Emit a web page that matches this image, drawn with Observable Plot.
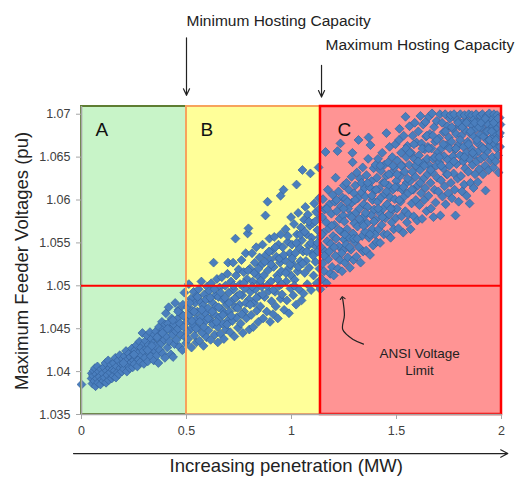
<!DOCTYPE html>
<html><head><meta charset="utf-8">
<script src="https://cdn.jsdelivr.net/npm/d3@7"></script>
<script src="https://cdn.jsdelivr.net/npm/@observablehq/plot@0.6"></script>
<style>
body{margin:0;background:#fff;font-family:"Liberation Sans",Arial,sans-serif;}
#chart svg{display:block}
</style></head><body><div id="chart"></div>
<script>
// ---- categories / zones ----
const zoneNames = ["A", "B", "C"];
const zoneStarts = [0, 0.5, 1.138];
const zoneEnds = [0.5, 1.138, 2];
const zoneFills = ["#c8f4c8", "#ffff99", "#ff9494"];
const zoneStrokes = ["#5e7d32", "#f7a35c", "#ff0000"];
const zoneStrokeWidths = [2, 2, 2.5];
const ansiLimit = 1.05;
const yBottom = 1.035, yTop = 1.0709;

// ---- ticks ----
const xTicks = [0, 0.5, 1, 1.5, 2];
const xTickLabels = ["0", "0.5", "1", "1.5", "2"];
const yTicks = [1.035, 1.04, 1.045, 1.05, 1.055, 1.06, 1.065, 1.07];
const yTickLabels = ["1.035", "1.04", "1.045", "1.05", "1.055", "1.06", "1.065", "1.07"];

// ---- texts ----
const minLabel = "Minimum Hosting Capacity";
const maxLabel = "Maximum Hosting Capacity";
const xLabel = "Increasing penetration (MW)";
const yLabel = "Maximum Feeder Voltages (pu)";
const ansiLabel = "ANSI Voltage\nLimit";

// ---- series: (penetration MW, max feeder voltage pu) ----
const zoneA = [[0.000,1.0385],[0.048,1.0392],[0.049,1.0398],
[0.052,1.0386],[0.055,1.0395],[0.058,1.0401],[0.061,1.0389],[0.064,1.0404],[0.067,1.0383],[0.070,1.0397],[0.073,1.0392],[0.076,1.0406],[0.079,1.0387],[0.083,1.0400],[0.086,1.0394],[0.090,1.0385],[0.093,1.0403],[0.097,1.0391],
[0.101,1.0398],[0.104,1.0389],[0.107,1.0405],[0.110,1.0393],[0.114,1.0410],[0.117,1.0387],[0.120,1.0401],[0.123,1.0396],[0.127,1.0413],[0.130,1.0390],[0.134,1.0404],[0.137,1.0399],[0.141,1.0408],[0.144,1.0392],[0.148,1.0402],
[0.151,1.0395],[0.154,1.0410],[0.158,1.0401],[0.161,1.0416],[0.164,1.0393],[0.168,1.0406],[0.171,1.0399],[0.175,1.0413],[0.178,1.0397],[0.182,1.0419],[0.185,1.0404],[0.189,1.0409],[0.192,1.0400],[0.196,1.0415],[0.199,1.0407],
[0.202,1.0403],[0.205,1.0418],[0.209,1.0410],[0.212,1.0424],[0.216,1.0400],[0.219,1.0414],[0.223,1.0407],[0.226,1.0421],[0.230,1.0404],[0.233,1.0417],[0.237,1.0411],[0.240,1.0427],[0.244,1.0405],[0.247,1.0420],[0.249,1.0413],
[0.252,1.0409],[0.255,1.0425],[0.259,1.0417],[0.262,1.0431],[0.266,1.0406],[0.269,1.0421],[0.273,1.0414],[0.276,1.0435],[0.280,1.0411],[0.283,1.0428],[0.287,1.0419],[0.290,1.0445],[0.294,1.0424],[0.297,1.0409],[0.299,1.0433],
[0.302,1.0416],[0.305,1.0436],[0.309,1.0427],[0.312,1.0442],[0.316,1.0412],[0.319,1.0431],[0.323,1.0421],[0.326,1.0446],[0.330,1.0418],[0.333,1.0438],[0.337,1.0426],[0.340,1.0433],[0.344,1.0413],[0.347,1.0443],[0.349,1.0424],
[0.352,1.0430],[0.355,1.0447],[0.359,1.0419],[0.362,1.0439],[0.366,1.0410],[0.369,1.0452],[0.373,1.0425],[0.376,1.0444],[0.380,1.0433],[0.383,1.0458],[0.387,1.0421],[0.390,1.0449],[0.394,1.0437],[0.397,1.0416],[0.399,1.0455],
[0.402,1.0468],[0.405,1.0441],[0.409,1.0428],[0.412,1.0456],[0.415,1.0475],[0.419,1.0435],[0.422,1.0449],[0.426,1.0420],[0.429,1.0462],[0.433,1.0443],[0.436,1.0417],[0.440,1.0455],[0.443,1.0432],[0.446,1.0480],[0.449,1.0447],
[0.452,1.0437],[0.455,1.0461],[0.459,1.0450],[0.462,1.0472],[0.466,1.0429],[0.469,1.0456],[0.473,1.0443],[0.476,1.0467],[0.480,1.0425],[0.483,1.0478],[0.487,1.0452],[0.490,1.0492],[0.493,1.0440],[0.496,1.0463],[0.498,1.0433],
[0.200,1.0410],[0.250,1.0420],[0.315,1.0425],[0.335,1.0430],[0.360,1.0440],[0.385,1.0445],[0.410,1.0450],[0.435,1.0460],[0.460,1.0470],[0.485,1.0465]];

const zoneB = [[0.502,1.0458],[0.505,1.0475],[0.508,1.0438],[0.511,1.0502],[0.514,1.0466],[0.518,1.0449],[0.521,1.0485],[0.524,1.0428],[0.528,1.0471],[0.531,1.0455],[0.534,1.0493],[0.538,1.0442],[0.541,1.0480],[0.544,1.0461],[0.547,1.0434],[0.549,1.0488],
[0.552,1.0470],[0.555,1.0451],[0.558,1.0496],[0.561,1.0436],[0.565,1.0482],[0.568,1.0463],[0.571,1.0505],[0.575,1.0445],[0.578,1.0477],[0.581,1.0430],[0.585,1.0490],[0.588,1.0458],[0.591,1.0468],[0.595,1.0440],[0.598,1.0499],
[0.602,1.0474],[0.605,1.0448],[0.608,1.0494],[0.611,1.0461],[0.615,1.0437],[0.618,1.0503],[0.621,1.0481],[0.625,1.0455],[0.629,1.0527],[0.632,1.0467],[0.635,1.0443],[0.638,1.0489],[0.641,1.0476],[0.645,1.0508],[0.648,1.0452],[0.649,1.0434],
[0.652,1.0487],[0.655,1.0463],[0.658,1.0498],[0.662,1.0444],[0.665,1.0473],[0.668,1.0510],[0.672,1.0456],[0.675,1.0484],[0.678,1.0438],[0.682,1.0468],[0.685,1.0500],[0.688,1.0449],[0.692,1.0478],[0.695,1.0514],[0.698,1.0527],[0.699,1.0460],
[0.702,1.0492],[0.705,1.0470],[0.708,1.0446],[0.712,1.0505],[0.715,1.0482],[0.718,1.0459],[0.722,1.0527],[0.725,1.0496],[0.728,1.0441],[0.732,1.0475],[0.733,1.0555],[0.736,1.0512],[0.739,1.0463],[0.742,1.0488],[0.745,1.0451],[0.748,1.0519],
[0.752,1.0478],[0.755,1.0502],[0.758,1.0456],[0.762,1.0530],[0.765,1.0489],[0.768,1.0445],[0.772,1.0516],[0.775,1.0470],[0.778,1.0497],[0.782,1.0538],[0.785,1.0462],[0.788,1.0508],[0.791,1.0561],[0.795,1.0567],[0.797,1.0484],[0.799,1.0449],
[0.802,1.0520],[0.805,1.0493],[0.808,1.0466],[0.812,1.0538],[0.815,1.0505],[0.818,1.0452],[0.822,1.0480],[0.825,1.0527],[0.828,1.0496],[0.832,1.0545],[0.835,1.0471],[0.838,1.0512],[0.842,1.0458],[0.845,1.0488],[0.848,1.0533],[0.849,1.0503],
[0.852,1.0476],[0.855,1.0524],[0.858,1.0499],[0.862,1.0548],[0.865,1.0462],[0.868,1.0512],[0.872,1.0487],[0.876,1.0582],[0.878,1.0536],[0.882,1.0470],[0.886,1.0598],[0.888,1.0518],[0.892,1.0494],[0.895,1.0555],[0.898,1.0458],[0.899,1.0530],
[0.902,1.0505],[0.905,1.0482],[0.908,1.0541],[0.912,1.0467],[0.915,1.0522],[0.918,1.0557],[0.922,1.0493],[0.925,1.0476],[0.928,1.0534],[0.932,1.0512],[0.935,1.0462],[0.938,1.0548],[0.942,1.0500],[0.945,1.0527],[0.948,1.0485],[0.949,1.0560],[0.948,1.0605],
[0.952,1.0517],[0.955,1.0490],[0.958,1.0545],[0.962,1.0612],[0.965,1.0472],[0.968,1.0530],[0.972,1.0566],[0.975,1.0505],[0.978,1.0483],[0.982,1.0551],[0.985,1.0520],[0.988,1.0468],[0.992,1.0538],[0.995,1.0497],[0.998,1.0580],[0.999,1.0512],
[1.002,1.0548],[1.005,1.0526],[1.008,1.0489],[1.012,1.0572],[1.015,1.0507],[1.018,1.0538],[1.022,1.0478],[1.024,1.0618],[1.026,1.0560],[1.029,1.0517],[1.032,1.0585],[1.035,1.0496],[1.038,1.0544],[1.042,1.0529],[1.045,1.0568],[1.048,1.0483],[1.049,1.0553],
[1.052,1.0635],[1.055,1.0540],[1.057,1.0491],[1.060,1.0577],[1.063,1.0515],[1.066,1.0592],[1.069,1.0529],[1.072,1.0560],[1.075,1.0502],[1.078,1.0583],[1.081,1.0547],[1.084,1.0521],[1.087,1.0570],[1.090,1.0631],[1.093,1.0495],[1.096,1.0556],[1.099,1.0538],
[1.102,1.0573],[1.105,1.0512],[1.108,1.0596],[1.111,1.0547],[1.114,1.0528],[1.117,1.0586],[1.120,1.0503],[1.123,1.0565],[1.126,1.0540],[1.129,1.0638],[1.131,1.0602],[1.133,1.0520],[1.135,1.0557],[1.137,1.0496],[1.137,1.0580],
[0.503,1.0446],[0.516,1.0480],[0.526,1.0459],[0.536,1.0470],[0.546,1.0450],[0.553,1.0487],[0.563,1.0458],[0.573,1.0472],[0.583,1.0452],[0.593,1.0484],
[0.603,1.0462],[0.613,1.0486],[0.623,1.0470],[0.633,1.0496],[0.643,1.0458],[0.653,1.0475],[0.663,1.0492],[0.673,1.0466],[0.683,1.0486],[0.693,1.0455],
[0.703,1.0480],[0.713,1.0465],[0.723,1.0500],[0.733,1.0486],[0.743,1.0474],[0.753,1.0490],[0.763,1.0467],[0.773,1.0503],[0.783,1.0480],[0.793,1.0518],
[0.803,1.0478],[0.813,1.0499],[0.823,1.0515],[0.833,1.0486],[0.843,1.0520],[0.853,1.0506],[0.863,1.0490],[0.873,1.0528],[0.883,1.0500],[0.893,1.0540],
[0.903,1.0525],[0.913,1.0495],[0.923,1.0545],[0.933,1.0508],[0.943,1.0532],[0.953,1.0502],[0.963,1.0536],[0.973,1.0515],[0.983,1.0558],[0.993,1.0525],
[1.003,1.0532],[1.013,1.0500],[1.023,1.0550],[1.033,1.0522],[1.043,1.0560],[1.053,1.0526],[1.063,1.0563],[1.073,1.0540],[1.083,1.0575],[1.093,1.0550],
[1.103,1.0535],[1.113,1.0575],[1.123,1.0550],[1.133,1.0590]];

const zoneC = [[1.141,1.0545],[1.143,1.0508],[1.146,1.0580],[1.148,1.0526],[1.150,1.0601],[1.153,1.0562],[1.155,1.0517],[1.158,1.0589],[1.160,1.0540],[1.162,1.0656],[1.165,1.0574],[1.167,1.0503],[1.170,1.0552],[1.173,1.0612],[1.175,1.0531],[1.178,1.0567],[1.181,1.0595],[1.184,1.0514],[1.187,1.0549],[1.190,1.0584],[1.193,1.0522],[1.196,1.0606],[1.198,1.0558],
[1.201,1.0512],[1.204,1.0571],[1.206,1.0598],[1.209,1.0535],[1.210,1.0626],[1.213,1.0555],[1.216,1.0587],[1.219,1.0657],[1.221,1.0520],[1.224,1.0610],[1.226,1.0546],[1.229,1.0578],[1.231,1.0530],[1.233,1.0666],[1.236,1.0593],[1.238,1.0563],[1.241,1.0517],[1.243,1.0603],[1.245,1.0541],[1.247,1.0582],[1.249,1.0617],[1.250,1.0554],
[1.252,1.0575],[1.255,1.0527],[1.257,1.0601],[1.260,1.0548],[1.262,1.0620],[1.265,1.0566],[1.268,1.0533],[1.270,1.0590],[1.273,1.0612],[1.275,1.0556],[1.278,1.0521],[1.281,1.0582],[1.283,1.0542],[1.286,1.0627],[1.288,1.0597],[1.290,1.0655],[1.291,1.0644],[1.293,1.0561],[1.295,1.0530],[1.297,1.0608],[1.299,1.0573],
[1.301,1.0551],[1.304,1.0617],[1.306,1.0585],[1.309,1.0534],[1.311,1.0632],[1.314,1.0569],[1.316,1.0602],[1.319,1.0670],[1.321,1.0545],[1.324,1.0590],[1.326,1.0625],[1.329,1.0527],[1.331,1.0576],[1.334,1.0609],[1.336,1.0558],[1.339,1.0638],[1.341,1.0540],[1.344,1.0595],[1.346,1.0581],[1.348,1.0614],[1.350,1.0563],
[1.352,1.0604],[1.355,1.0541],[1.357,1.0629],[1.360,1.0573],[1.362,1.0592],[1.365,1.0648],[1.367,1.0673],[1.369,1.0556],[1.372,1.0615],[1.374,1.0536],[1.376,1.0664],[1.379,1.0583],[1.381,1.0622],[1.384,1.0566],[1.386,1.0600],[1.389,1.0547],[1.391,1.0637],[1.394,1.0589],[1.396,1.0611],[1.398,1.0560],[1.400,1.0641],
[1.402,1.0577],[1.405,1.0551],[1.407,1.0626],[1.410,1.0598],[1.412,1.0648],[1.415,1.0566],[1.417,1.0613],[1.420,1.0585],[1.422,1.0550],[1.425,1.0634],[1.427,1.0603],[1.430,1.0571],[1.432,1.0655],[1.435,1.0620],[1.437,1.0590],[1.440,1.0560],[1.442,1.0641],[1.445,1.0607],[1.447,1.0579],[1.450,1.0628],[1.452,1.0678],
[1.455,1.0595],[1.457,1.0560],[1.460,1.0644],[1.462,1.0617],[1.465,1.0583],[1.467,1.0662],[1.470,1.0603],[1.472,1.0556],[1.475,1.0631],[1.477,1.0574],[1.480,1.0650],[1.482,1.0612],[1.485,1.0589],[1.487,1.0566],[1.490,1.0638],[1.492,1.0601],[1.495,1.0665],[1.497,1.0579],[1.499,1.0622],
[1.502,1.0590],[1.504,1.0646],[1.507,1.0615],[1.509,1.0567],[1.512,1.0670],[1.514,1.0683],[1.517,1.0628],[1.519,1.0598],[1.522,1.0655],[1.524,1.0581],[1.527,1.0612],[1.529,1.0640],[1.532,1.0562],[1.534,1.0675],[1.537,1.0604],[1.539,1.0633],[1.542,1.0587],[1.543,1.0697],[1.546,1.0650],[1.548,1.0620],[1.550,1.0574],
[1.552,1.0663],[1.555,1.0608],[1.557,1.0583],[1.560,1.0641],[1.562,1.0686],[1.565,1.0622],[1.567,1.0566],[1.570,1.0655],[1.572,1.0596],[1.575,1.0633],[1.577,1.0675],[1.580,1.0612],[1.582,1.0581],[1.585,1.0648],[1.587,1.0690],[1.590,1.0627],[1.592,1.0600],[1.595,1.0667],[1.597,1.0640],[1.599,1.0576],
[1.602,1.0617],[1.604,1.0680],[1.607,1.0652],[1.609,1.0594],[1.612,1.0635],[1.614,1.0698],[1.617,1.0608],[1.619,1.0666],[1.622,1.0578],[1.624,1.0643],[1.627,1.0688],[1.629,1.0625],[1.632,1.0600],[1.634,1.0659],[1.637,1.0614],[1.638,1.0691],[1.641,1.0674],[1.643,1.0587],[1.646,1.0648],[1.648,1.0630],[1.650,1.0662],
[1.652,1.0605],[1.654,1.0697],[1.657,1.0640],[1.659,1.0677],[1.662,1.0620],[1.664,1.0590],[1.667,1.0660],[1.669,1.0701],[1.672,1.0632],[1.674,1.0648],[1.676,1.0580],[1.679,1.0685],[1.681,1.0612],[1.684,1.0668],[1.686,1.0597],[1.689,1.0640],[1.691,1.0692],[1.694,1.0626],[1.696,1.0655],[1.699,1.0610],
[1.702,1.0672],[1.704,1.0644],[1.707,1.0700],[1.709,1.0582],[1.712,1.0623],[1.714,1.0660],[1.717,1.0690],[1.719,1.0604],[1.722,1.0637],[1.724,1.0679],[1.727,1.0651],[1.729,1.0616],[1.732,1.0700],[1.734,1.0595],[1.737,1.0664],[1.739,1.0630],[1.742,1.0686],[1.744,1.0647],[1.747,1.0608],[1.749,1.0673],
[1.752,1.0640],[1.754,1.0695],[1.757,1.0699],[1.759,1.0620],[1.762,1.0668],[1.764,1.0602],[1.767,1.0683],[1.769,1.0651],[1.772,1.0631],[1.774,1.0700],[1.777,1.0612],[1.779,1.0659],[1.781,1.0582],[1.784,1.0677],[1.786,1.0642],[1.789,1.0693],[1.791,1.0625],[1.794,1.0664],[1.796,1.0598],[1.799,1.0686],
[1.802,1.0652],[1.804,1.0700],[1.807,1.0628],[1.809,1.0675],[1.812,1.0610],[1.814,1.0690],[1.817,1.0645],[1.819,1.0662],[1.822,1.0618],[1.824,1.0699],[1.827,1.0637],[1.829,1.0681],[1.832,1.0655],[1.834,1.0605],[1.837,1.0692],[1.839,1.0668],[1.842,1.0633],[1.844,1.0700],[1.847,1.0648],[1.848,1.0596],[1.850,1.0678],
[1.852,1.0620],[1.854,1.0688],[1.857,1.0660],[1.859,1.0699],[1.862,1.0641],[1.864,1.0675],[1.867,1.0614],[1.869,1.0694],[1.872,1.0653],[1.874,1.0630],[1.877,1.0683],[1.879,1.0700],[1.882,1.0645],[1.884,1.0667],[1.887,1.0621],[1.889,1.0690],[1.892,1.0657],[1.894,1.0636],[1.897,1.0676],[1.899,1.0698],
[1.902,1.0648],[1.904,1.0685],[1.907,1.0662],[1.909,1.0700],[1.912,1.0630],[1.914,1.0674],[1.917,1.0692],[1.919,1.0651],[1.922,1.0640],[1.924,1.0611],[1.927,1.0680],[1.929,1.0698],[1.932,1.0657],[1.934,1.0669],[1.937,1.0688],[1.939,1.0635],[1.942,1.0701],[1.944,1.0663],[1.947,1.0646],[1.949,1.0683],
[1.952,1.0672],[1.954,1.0694],[1.957,1.0650],[1.959,1.0686],[1.962,1.0638],[1.964,1.0700],[1.967,1.0665],[1.969,1.0678],[1.972,1.0645],[1.974,1.0691],[1.977,1.0660],[1.979,1.0699],[1.982,1.0684],[1.984,1.0652],[1.986,1.0632],[1.988,1.0674],[1.991,1.0696],[1.993,1.0662],[1.995,1.0688],
[1.144,1.0560],[1.156,1.0535],[1.168,1.0590],[1.180,1.0540],[1.192,1.0570],[1.203,1.0545],[1.215,1.0600],[1.227,1.0565],[1.239,1.0538],[1.248,1.0590],
[1.254,1.0560],[1.266,1.0598],[1.277,1.0545],[1.287,1.0580],[1.296,1.0555],[1.303,1.0600],[1.313,1.0555],[1.323,1.0578],[1.333,1.0620],[1.343,1.0570],
[1.353,1.0585],[1.363,1.0620],[1.373,1.0560],[1.383,1.0605],[1.393,1.0575],[1.403,1.0612],[1.413,1.0590],[1.423,1.0640],[1.433,1.0580],[1.443,1.0620],
[1.453,1.0610],[1.463,1.0630],[1.473,1.0590],[1.483,1.0640],[1.493,1.0615],[1.503,1.0630],[1.513,1.0600],[1.523,1.0640],[1.533,1.0615],[1.545,1.0660],
[1.553,1.0625],[1.563,1.0655],[1.573,1.0612],[1.583,1.0665],[1.593,1.0640],[1.603,1.0645],[1.613,1.0620],[1.623,1.0660],[1.633,1.0640],[1.645,1.0675],
[1.653,1.0660],[1.663,1.0635],[1.673,1.0675],[1.683,1.0650],[1.693,1.0670],[1.703,1.0650],[1.713,1.0640],[1.723,1.0665],[1.733,1.0680],[1.743,1.0630],
[1.753,1.0660],[1.763,1.0685],[1.773,1.0645],[1.783,1.0660],[1.793,1.0690],[1.803,1.0670],[1.813,1.0685],[1.823,1.0650],[1.833,1.0690],[1.843,1.0665],
[1.853,1.0680],[1.863,1.0655],[1.873,1.0690],[1.883,1.0670],[1.893,1.0685],[1.903,1.0690],[1.913,1.0660],[1.923,1.0695],[1.933,1.0680],[1.943,1.0670],
[1.953,1.0680],[1.963,1.0690],[1.973,1.0670],[1.983,1.0695],[1.993,1.0678]];

// ---- annotation anchors (data units) ----
const minArrow = {x: 0.5, y1: 1.0789, y2: 1.0722};
const maxArrow = {x: 1.143, y1: 1.0757, y2: 1.0720};
const minLabelPos = {x: 0.5, y: 1.0809};
const maxLabelPos = {x: 1.162, y: 1.0781};
const xArrow = {x1: -0.038, x2: 2.03, y: 1.03045};
const xLabelPos = {x: 0.975, y: 1.0290};
const yLabelPos = {x: -0.281, y: 1.0529};
const ansiLabelPos = {x: 1.61, y: 1.0412};
const ansiArrowPath = [[1.343,1.0432],[1.296,1.0437],[1.244,1.0449],[1.252,1.0466],[1.243,1.0486]];
const zoneLetterDx = [14, 14, 17];

// ---- build tables ----
const zones = zoneNames.map((name, i) => ({name, x1: zoneStarts[i], x2: zoneEnds[i], fill: zoneFills[i], stroke: zoneStrokes[i], sw: zoneStrokeWidths[i], dx: zoneLetterDx[i]}));
const points = [...zoneA, ...zoneB, ...zoneC].map(([x, y]) => ({x, y}));

const font = '"Liberation Sans", Arial, sans-serif';

const chart = Plot.plot({
  width: 517, height: 477,
  marginLeft: 81, marginRight: 16, marginTop: 106, marginBottom: 63,
  x: {domain: [0, 2]},
  y: {domain: [yBottom, yTop]},
  style: {fontFamily: font, background: "white", overflow: "visible"},
  marks: [
    Plot.rect(zones, {x1: "x1", x2: "x2", y1: yBottom, y2: yTop, fill: d => d.fill}),
    Plot.dot(points, {x: "x", y: "y", symbol: "diamond2", r: 4, fill: "#4a7ebd", stroke: "#35639d", strokeWidth: 0.7}),
    ...zones.map(z => Plot.rect([z], {x1: "x1", x2: "x2", y1: yBottom, y2: yTop, fill: "none", stroke: z.stroke, strokeWidth: z.sw})),
    Plot.ruleX([0], {y1: yBottom, y2: yTop, stroke: "#a6a6a6", strokeWidth: 1.6}),
    Plot.ruleY([yBottom], {x1: 0, x2: 2, stroke: "#a6a6a6", strokeWidth: 1.6}),
    Plot.ruleY([ansiLimit], {x1: 0, x2: 2, stroke: "#ff0000", strokeWidth: 2}),
    Plot.axisX(xTicks, {tickFormat: d => xTickLabels[xTicks.indexOf(d)], tickSize: 5, tickPadding: 7, fontSize: 12.5, stroke: "#a6a6a6", fill: "#404040", label: null}),
    Plot.axisY(yTicks, {tickFormat: d => yTickLabels[yTicks.indexOf(d)], tickSize: 5, tickPadding: 6, fontSize: 12.5, stroke: "#a6a6a6", fill: "#404040", label: null}),
    ...zones.map(z => Plot.text([z], {x: "x1", y: yTop, text: "name", dx: z.dx, dy: 23, textAnchor: "start", lineAnchor: "middle", fontSize: 19, fill: "#111"})),
    // top annotations
    Plot.arrow([minArrow], {x: "x", y1: "y1", y2: "y2", stroke: "#222", strokeWidth: 1.2, headLength: 9, headAngle: 50}),
    Plot.arrow([maxArrow], {x: "x", y1: "y1", y2: "y2", stroke: "#222", strokeWidth: 1.2, headLength: 9, headAngle: 50}),
    Plot.text([minLabel], {x: minLabelPos.x, y: minLabelPos.y, text: d => d, textAnchor: "start", lineAnchor: "middle", fontSize: 15.5, fill: "#222"}),
    Plot.text([maxLabel], {x: maxLabelPos.x, y: maxLabelPos.y, text: d => d, textAnchor: "start", lineAnchor: "middle", fontSize: 15.5, fill: "#222"}),
    // axis titles
    Plot.arrow([xArrow], {x1: "x1", x2: "x2", y: "y", stroke: "#222", strokeWidth: 1.2, headLength: 10, headAngle: 55}),
    Plot.text([xLabel], {x: xLabelPos.x, y: xLabelPos.y, text: d => d, textAnchor: "middle", lineAnchor: "middle", fontSize: 18.5, fill: "#222"}),
    Plot.text([yLabel], {x: yLabelPos.x, y: yLabelPos.y, text: d => d, rotate: -90, textAnchor: "middle", lineAnchor: "middle", fontSize: 18.5, fill: "#222"}),
    // ANSI annotation
    Plot.line(ansiArrowPath, {x: d => d[0], y: d => d[1], curve: "catmull-rom", stroke: "#222", strokeWidth: 1.2, markerEnd: "arrow"}),
    Plot.text([ansiLabel], {x: ansiLabelPos.x, y: ansiLabelPos.y, text: d => d, textAnchor: "middle", lineAnchor: "middle", lineHeight: 1.25, fontSize: 13.5, fill: "#222"})
  ]
});
document.getElementById("chart").appendChild(chart);
</script></body></html>
